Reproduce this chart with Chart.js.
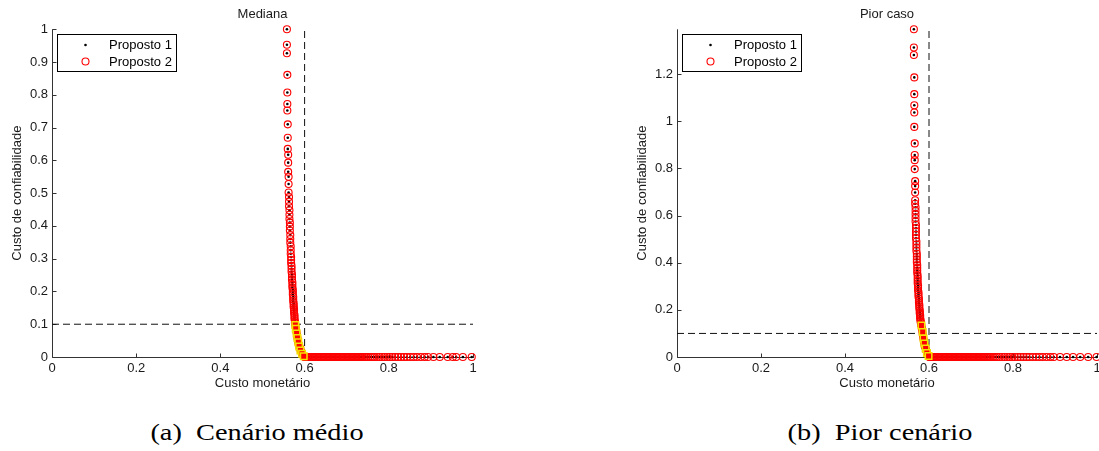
<!DOCTYPE html>
<html>
<head>
<meta charset="utf-8">
<script src="https://cdn.jsdelivr.net/npm/chart.js@4"></script>
<style>
  body { margin: 0; background: #fff; width: 1099px; height: 451px; overflow: hidden; position: relative; }
  canvas { position: absolute; top: 0; }
  #graficoMediana { left: 0; }
  #graficoPior { left: 549px; }
  .legenda-fig { position: absolute; top: 416px; width: 400px; text-align: center; font-family: "Liberation Serif", serif; font-size: 24px; line-height: 32px; color: #000; transform: scaleX(1.18); transform-origin: center; }
</style>
</head>
<body>
<canvas id="graficoMediana" width="549" height="400"></canvas>
<canvas id="graficoPior" width="560" height="400"></canvas>
<div class="legenda-fig" style="left:57px">(a)&nbsp; Cenário médio</div>
<div class="legenda-fig" style="left:680px">(b)&nbsp; Pior cenário</div>
<script>
// ---- dados ----
const ticksX = [0, 0.2, 0.4, 0.6, 0.8, 1];
const ticksYMediana = [0, 0.1, 0.2, 0.3, 0.4, 0.5, 0.6, 0.7, 0.8, 0.9, 1];
const ticksYPior = [0, 0.2, 0.4, 0.6, 0.8, 1, 1.2];

// Mediana: ramo vertical + joelho
const medX = [0.558, 0.558, 0.558, 0.559, 0.559, 0.559, 0.559, 0.560, 0.560, 0.560, 0.561, 0.561, 0.561, 0.562, 0.562, 0.562,
  0.563, 0.563, 0.563, 0.564, 0.564, 0.564, 0.565, 0.565, 0.565, 0.566, 0.566, 0.566, 0.567, 0.567, 0.567, 0.568, 0.568, 0.568, 0.569, 0.569,
  0.569, 0.570, 0.570, 0.570, 0.571, 0.571, 0.571, 0.572, 0.572, 0.572, 0.573, 0.573, 0.573, 0.574, 0.574, 0.574, 0.575, 0.575, 0.575, 0.576,
  0.576, 0.576, 0.577, 0.577,
  0.578, 0.579, 0.580, 0.581, 0.582, 0.583, 0.584, 0.585, 0.587, 0.588, 0.590, 0.591, 0.593, 0.594, 0.596, 0.598, 0.600];
const medY = [1.000, 0.953, 0.927, 0.861, 0.807, 0.772, 0.752, 0.710, 0.669, 0.635, 0.617, 0.593, 0.565, 0.550, 0.528, 0.502,
  0.488, 0.474, 0.460, 0.448, 0.434, 0.421, 0.410, 0.398, 0.386, 0.372, 0.360, 0.349, 0.338, 0.326, 0.315, 0.305, 0.296, 0.287, 0.278, 0.269,
  0.260, 0.252, 0.244, 0.236, 0.228, 0.220, 0.212, 0.205, 0.198, 0.191, 0.184, 0.177, 0.170, 0.164, 0.158, 0.152, 0.146, 0.140, 0.134, 0.128,
  0.122, 0.116, 0.110, 0.104,
  0.098, 0.090, 0.082, 0.074, 0.066, 0.058, 0.050, 0.043, 0.036, 0.030, 0.024, 0.018, 0.013, 0.009, 0.005, 0.002, 0.000];
// Mediana: ramo horizontal (custo de confiabilidade = 0)
const medBaseX = [0.600, 0.603, 0.606, 0.609, 0.612, 0.615, 0.618, 0.621, 0.624, 0.627, 0.630, 0.633, 0.636, 0.639, 0.642, 0.645,
  0.648, 0.651, 0.654, 0.657, 0.660, 0.663, 0.666, 0.669, 0.672, 0.675, 0.678, 0.681, 0.684, 0.687, 0.690, 0.693, 0.696, 0.699,
  0.702, 0.705, 0.708, 0.711, 0.714, 0.717, 0.720, 0.723, 0.726, 0.729, 0.732, 0.735, 0.738, 0.742, 0.746, 0.751, 0.756, 0.761,
  0.766, 0.772, 0.778, 0.784, 0.790, 0.796, 0.802, 0.808, 0.815, 0.822, 0.829, 0.836, 0.843, 0.851, 0.859, 0.867, 0.876, 0.885,
  0.893, 0.906, 0.921, 0.940, 0.952, 0.960, 0.976, 0.997];
// Mediana: solucoes destacadas (quadrados)
const medSelX = [0.578, 0.579, 0.581, 0.583, 0.585, 0.587, 0.590, 0.594, 0.598];
const medSelY = [0.098, 0.086, 0.072, 0.058, 0.045, 0.032, 0.020, 0.010, 0.002];

// Pior caso: ramo vertical + joelho
const piorX = [0.564, 0.564, 0.564, 0.565, 0.565, 0.565, 0.565, 0.565, 0.566, 0.566, 0.566, 0.566, 0.567, 0.567, 0.567, 0.567,
  0.567, 0.568, 0.568, 0.568, 0.568, 0.568, 0.569, 0.569, 0.569, 0.569, 0.569, 0.570, 0.570, 0.570, 0.570, 0.571, 0.571, 0.571, 0.571, 0.572,
  0.572, 0.572, 0.572, 0.573, 0.573, 0.573, 0.573, 0.574, 0.574, 0.574, 0.575, 0.575, 0.575, 0.576, 0.576, 0.576, 0.577, 0.577, 0.577, 0.578,
  0.578, 0.578, 0.579, 0.579, 0.579, 0.580, 0.580, 0.581, 0.581, 0.582,
  0.583, 0.584, 0.585, 0.586, 0.587, 0.588, 0.589, 0.590, 0.592, 0.593, 0.595, 0.596, 0.598, 0.599, 0.601];
const piorY = [1.390, 1.313, 1.281, 1.186, 1.115, 1.068, 1.037, 0.976, 0.906, 0.857, 0.835, 0.797, 0.746, 0.725, 0.698, 0.665,
  0.650, 0.635, 0.620, 0.605, 0.590, 0.575, 0.560, 0.546, 0.532, 0.518, 0.504, 0.490, 0.477, 0.464, 0.451, 0.438, 0.426, 0.414, 0.402, 0.390,
  0.378, 0.367, 0.356, 0.345, 0.334, 0.323, 0.313, 0.303, 0.293, 0.283, 0.274, 0.265, 0.256, 0.247, 0.238, 0.230, 0.222, 0.214, 0.206, 0.198,
  0.191, 0.184, 0.177, 0.170, 0.163, 0.156, 0.150, 0.144, 0.138, 0.134,
  0.122, 0.110, 0.098, 0.086, 0.075, 0.065, 0.055, 0.046, 0.037, 0.029, 0.021, 0.014, 0.008, 0.003, 0.000];
const piorBaseX = [0.601, 0.604, 0.607, 0.610, 0.613, 0.616, 0.619, 0.622, 0.625, 0.628, 0.631, 0.634, 0.637, 0.640, 0.643, 0.646,
  0.649, 0.652, 0.655, 0.658, 0.661, 0.664, 0.667, 0.670, 0.673, 0.676, 0.679, 0.682, 0.685, 0.688, 0.691, 0.694, 0.697, 0.700,
  0.703, 0.706, 0.709, 0.712, 0.715, 0.718, 0.721, 0.724, 0.727, 0.730, 0.733, 0.736, 0.739, 0.743, 0.747, 0.752, 0.757, 0.762,
  0.768, 0.774, 0.780, 0.786, 0.792, 0.798, 0.804, 0.811, 0.818, 0.825, 0.832, 0.839, 0.847, 0.855, 0.863, 0.871, 0.880, 0.889,
  0.897, 0.912, 0.928, 0.943, 0.960, 0.979, 0.999];
const piorSelX = [0.582, 0.585, 0.587, 0.589, 0.592, 0.595, 0.599];
const piorSelY = [0.134, 0.106, 0.078, 0.057, 0.036, 0.017, 0.004];

// limites tracejados
const limiteX = 0.6;
const limiteY = 0.1;

// ---- helpers ----
const fonte = { family: "'Liberation Sans', Arial, sans-serif", size: 13 };
const corTexto = "#1a1a1a";

function pontos(xs, ys) {
  return xs.map((v, i) => ({ x: v, y: ys[i] }));
}
function noChao(xs) {
  return xs.map((v) => ({ x: v, y: 0 }));
}

// eixos estilo MATLAB: so esquerda/baixo, marcas para dentro
const eixos = {
  id: "eixos",
  beforeDatasetsDraw(chart) {
    const { ctx, chartArea: a, scales: { x, y } } = chart;
    ctx.save();
    ctx.strokeStyle = "#333";
    ctx.lineWidth = 1;
    ctx.beginPath();
    const L = Math.round(a.left) + 0.5, B = Math.round(a.bottom) + 0.5;
    ctx.moveTo(L, a.top);
    ctx.lineTo(L, B);
    ctx.lineTo(a.right + 1, B);
    x.ticks.forEach((t) => {
      const px = Math.round(x.getPixelForValue(t.value)) + 0.5;
      ctx.moveTo(px, B);
      ctx.lineTo(px, B - 4);
    });
    y.ticks.forEach((t) => {
      const py = Math.round(y.getPixelForValue(t.value)) + 0.5;
      ctx.moveTo(L, py);
      ctx.lineTo(L + 4, py);
    });
    ctx.stroke();
    ctx.restore();
  },
};

// legenda dentro do grafico, canto superior esquerdo
const legendaBox = {
  id: "legendaBox",
  afterDraw(chart) {
    const { ctx, chartArea: a } = chart;
    const bx = Math.round(a.left) + 5, by = Math.round(a.top) + 5;
    ctx.save();
    ctx.fillStyle = "#fff";
    ctx.fillRect(bx, by, 119, 37);
    ctx.strokeStyle = "#000";
    ctx.lineWidth = 1;
    ctx.strokeRect(bx + 0.5, by + 0.5, 119, 37);
    const itens = chart.data.datasets.filter((d) => d.naLegenda);
    itens.forEach((d, i) => {
      const cy = by + 11 + i * 16.5;
      const cx = bx + 28.5;
      ctx.beginPath();
      ctx.arc(cx, cy, d.pointRadius, 0, Math.PI * 2);
      if (d.borderWidth > 0) {
        ctx.strokeStyle = d.borderColor;
        ctx.lineWidth = d.borderWidth;
        ctx.stroke();
      } else {
        ctx.fillStyle = d.backgroundColor;
        ctx.fill();
      }
      ctx.fillStyle = "#000";
      ctx.font = `${fonte.size}px ${fonte.family}`;
      ctx.textBaseline = "middle";
      ctx.fillText(d.label, bx + 52, cy + 0.5);
    });
    ctx.restore();
  },
};

function criarGrafico(id, cfg) {
  const frente = pontos(cfg.xs, cfg.ys).concat(noChao(cfg.baseX));
  new Chart(document.getElementById(id), {
    type: "scatter",
    data: {
      datasets: [
        {
          label: "Proposto 1", naLegenda: true, data: frente,
          pointRadius: 1.3, backgroundColor: "#000", borderWidth: 0, order: 3, clip: false,
        },
        {
          label: "Proposto 2", naLegenda: true, data: frente,
          pointRadius: 3.5, backgroundColor: "rgba(0,0,0,0)", borderColor: "#ff0000", borderWidth: 1.1, order: 2, clip: false,
        },
        {
          label: "Selecionadas", data: pontos(cfg.selX, cfg.selY), pointStyle: "rect",
          pointRadius: 4.6, backgroundColor: "#ff0000", borderColor: "#f5e400", borderWidth: 1.5, order: 1, clip: false,
        },
        {
          label: "lim x", data: [{ x: limiteX, y: 0 }, { x: limiteX, y: cfg.yMax }], showLine: true,
          pointRadius: 0, borderColor: "#111", borderWidth: 1, borderDash: [7, 4], order: 4,
        },
        {
          label: "lim y", data: [{ x: 0, y: limiteY }, { x: 1, y: limiteY }], showLine: true,
          pointRadius: 0, borderColor: "#111", borderWidth: 1, borderDash: [7, 4], order: 4,
        },
      ],
    },
    options: {
      responsive: false,
      animation: false,
      events: [],
      layout: { padding: cfg.padding },
      plugins: {
        legend: { display: false },
        tooltip: { enabled: false },
        title: {
          display: true, text: cfg.titulo, fullSize: false, color: corTexto,
          font: { ...fonte, weight: "normal" }, padding: { top: 6.4, bottom: 7.3 },
        },
      },
      scales: {
        x: {
          type: "linear", min: 0, max: 1,
          afterBuildTicks: (s) => { s.ticks = ticksX.map((v) => ({ value: v })); },
          afterFit: (s) => { s.height = 43; },
          grid: { display: false, drawTicks: false },
          border: { display: false },
          ticks: { font: fonte, color: corTexto, padding: 4, maxRotation: 0, callback: (v) => String(v) },
          title: { display: true, text: "Custo monetário", font: fonte, color: corTexto, padding: { top: 0, bottom: 9.2 } },
        },
        y: {
          type: "linear", min: 0, max: cfg.yMax,
          afterBuildTicks: (s) => { s.ticks = cfg.ticksY.map((v) => ({ value: v })); },
          afterFit: (s) => { s.width = 52; },
          grid: { display: false, drawTicks: false },
          border: { display: false },
          ticks: { font: fonte, color: corTexto, padding: 4, callback: (v) => String(v) },
          title: { display: true, text: "Custo de confiabilidade", font: fonte, color: corTexto, padding: { top: 9.2, bottom: 0 } },
        },
      },
    },
    plugins: [eixos, legendaBox],
  });
}

criarGrafico("graficoMediana", {
  titulo: "Mediana", xs: medX, ys: medY, baseX: medBaseX, selX: medSelX, selY: medSelY,
  yMax: 1, ticksY: ticksYMediana, padding: { left: 0, right: 76, top: 0, bottom: 0 },
});
criarGrafico("graficoPior", {
  titulo: "Pior caso", xs: piorX, ys: piorY, baseX: piorBaseX, selX: piorSelX, selY: piorSelY,
  yMax: 1.39, ticksY: ticksYPior, padding: { left: 76, right: 12, top: 0, bottom: 0 },
});
</script>
</body>
</html>
